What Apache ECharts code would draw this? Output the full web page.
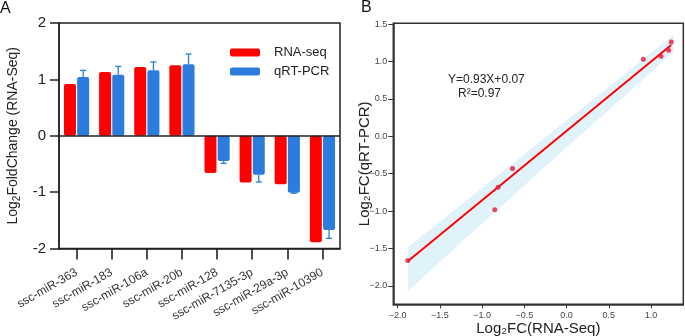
<!DOCTYPE html>
<html><head><meta charset="utf-8">
<script src="https://cdn.jsdelivr.net/npm/echarts@6/dist/echarts.min.js"></script>
<style>html,body{margin:0;padding:0;background:#fff}#c{width:685px;height:336px}</style>
</head><body><div id="c"></div>
<script>
// ---- Panel A data ----
const categories = ['ssc-miR-363','ssc-miR-183','ssc-miR-106a','ssc-miR-20b','ssc-miR-128','ssc-miR-7135-3p','ssc-miR-29a-3p','ssc-miR-10390'];
const rnaSeq = [0.92, 1.13, 1.22, 1.25, -0.66, -0.83, -0.86, -1.89];
const qrtPcr = [1.04, 1.08, 1.16, 1.27, -0.45, -0.69, -1.01, -1.67];
const qrtErr = [0.12, 0.15, 0.15, 0.18, 0.04, 0.13, 0.01, 0.15];
const yTicksA = [-2, -1, 0, 1, 2];
// ---- Panel B data ----
const scatterX = [0.91, 1.12, 1.21, 1.24, -0.64, -0.81, -0.85, -1.88];
const scatterY = [1.03, 1.07, 1.15, 1.26, -0.43, -0.68, -0.98, -1.66];
const fitX = [-1.88, 1.24];
const fitY = [-1.67, 1.22];
const bandX = [-1.88, -1.2, -0.6, 0, 0.6, 1.27];
const bandUpper = [-1.48, -0.87, -0.33, 0.21, 0.75, 1.36];
const bandLower = [-2.07, -1.37, -0.76, -0.15, 0.45, 1.13];
const xTicksB = [-2.0, -1.5, -1.0, -0.5, 0.0, 0.5, 1.0];
const yTicksB = [-2.0, -1.5, -1.0, -0.5, 0.0, 0.5, 1.0, 1.5];

const FONT = '"Liberation Sans", Arial, sans-serif';
const RED = '#FF0000', BLUE = '#2B7CDC';
const fmtB = v => (v < 0 ? '\u2212' : '') + Math.abs(v).toFixed(1);

const chart = echarts.init(document.getElementById('c'), null, {renderer: 'canvas'});
const option = {
  animation: false,
  textStyle: {fontFamily: FONT},
  grid: [
    {left: 59, top: 23, width: 281, height: 225.5, show: true, borderColor: '#222', borderWidth: 1.5, containLabel: false, outerBoundsMode: 'none'},
    {left: 393.3, top: 23.3, width: 290, height: 281, show: true, borderColor: '#333', borderWidth: 1.5, containLabel: false, outerBoundsMode: 'none'}
  ],
  legend: {
    data: ['RNA-seq', 'qRT-PCR'], orient: 'vertical', left: 225, top: 41,
    itemWidth: 30, itemHeight: 8, icon: 'roundRect', itemGap: 6,
    textStyle: {fontSize: 13, color: '#222', fontFamily: FONT, padding: [0, 0, 0, 9]}
  },
  xAxis: [
    {type: 'category', gridIndex: 0, data: categories, position: 'bottom',
      axisLine: {show: true, onZero: false, lineStyle: {color: '#222', width: 1.5}},
      axisTick: {show: true, inside: false, alignWithLabel: true, interval: 0, length: 11, lineStyle: {color: '#222', width: 1.6}},
      axisLabel: {rotate: 30, fontSize: 12, color: '#333', margin: 23, interval: 0}},
    {type: 'value', gridIndex: 1, min: -2.052, max: 1.383, splitLine: {show: false},
      axisLine: {show: true, onZero: false, lineStyle: {color: '#333', width: 1.5}},
      axisTick: {show: true, length: 4, customValues: xTicksB, lineStyle: {color: '#333'}},
      axisLabel: {customValues: xTicksB, formatter: fmtB, fontSize: 9, color: '#444', margin: 7},
      name: 'Log\u2082FC(RNA-Seq)', nameLocation: 'middle', nameGap: 17, nameMoveOverlap: false,
      nameTextStyle: {fontSize: 15, color: '#222'}}
  ],
  yAxis: [
    {type: 'value', gridIndex: 0, min: -2, max: 2, interval: 1, splitLine: {show: false},
      axisLine: {show: true, onZero: false, lineStyle: {color: '#222', width: 1.5}},
      axisTick: {show: true, length: 9, lineStyle: {color: '#222', width: 1.5}},
      axisLabel: {fontSize: 15, color: '#222', margin: 13, customValues: yTicksA},
      name: '{a|Log}{s|2}{a|FoldChange (RNA-Seq)}', nameLocation: 'middle', nameGap: 37, nameRotate: 90, nameMoveOverlap: false,
      nameTextStyle: {rich: {a: {fontSize: 14, color: '#222', fontFamily: FONT}, s: {fontSize: 10, color: '#222', fontFamily: FONT, padding: [7, 0, 0, 0]}}}},
    {type: 'value', gridIndex: 1, min: -2.245, max: 1.51, splitLine: {show: false},
      axisLine: {show: true, onZero: false, lineStyle: {color: '#333', width: 1.5}},
      axisTick: {show: true, length: 5, customValues: yTicksB, lineStyle: {color: '#333'}},
      axisLabel: {customValues: yTicksB, formatter: fmtB, fontSize: 9, color: '#444', margin: 6},
      name: 'Log\u2082FC(qRT-PCR)', nameLocation: 'middle', nameGap: 21, nameRotate: 90, nameMoveOverlap: false,
      nameTextStyle: {fontSize: 15, color: '#222'}}
  ],
  series: [
    {name: 'RNA-seq', type: 'bar', xAxisIndex: 0, yAxisIndex: 0, data: rnaSeq, barWidth: 12, barGap: '10%',
      itemStyle: {color: RED, borderRadius: 2}},
    {name: 'qRT-PCR', type: 'bar', xAxisIndex: 0, yAxisIndex: 0, data: qrtPcr, barWidth: 12, barGap: '10%',
      itemStyle: {color: BLUE, borderRadius: 2}},
    {name: 'err', type: 'custom', xAxisIndex: 0, yAxisIndex: 0, z: 5, silent: true,
      data: categories.map((c, i) => [i, qrtPcr[i], qrtErr[i]]),
      encode: {x: 0, y: 1},
      renderItem: (params, api) => {
        const i = api.value(0), v = api.value(1), e = api.value(2);
        const end = v >= 0 ? v + e : v - e;
        const p0 = api.coord([i, v]), p1 = api.coord([i, end]);
        const x = p0[0] + 6.6;
        return {type: 'group', children: [
          {type: 'line', shape: {x1: x, y1: p0[1], x2: x, y2: p1[1]}, style: {stroke: BLUE, lineWidth: 1.3}},
          {type: 'line', shape: {x1: x - 3, y1: p1[1], x2: x + 3, y2: p1[1]}, style: {stroke: BLUE, lineWidth: 1.3}}
        ]};
      },
      markLine: {silent: true, symbol: 'none', label: {show: false},
        lineStyle: {color: '#222', width: 1.5, type: 'solid'}, data: [{yAxis: 0}]}
    },
    {name: 'band', type: 'custom', xAxisIndex: 1, yAxisIndex: 1, silent: true, z: 1,
      data: [[bandX[0], bandUpper[0]]], encode: {x: 0, y: 1},
      renderItem: (params, api) => {
        const pts = [];
        for (let i = 0; i < bandX.length; i++) pts.push(api.coord([bandX[i], bandUpper[i]]));
        for (let i = bandX.length - 1; i >= 0; i--) pts.push(api.coord([bandX[i], bandLower[i]]));
        return {type: 'polygon', shape: {points: pts}, style: {fill: '#E0F3FB'}};
      }},
    {name: 'fit', type: 'line', xAxisIndex: 1, yAxisIndex: 1, z: 3, symbol: 'none', silent: true,
      data: fitX.map((x, i) => [x, fitY[i]]), lineStyle: {color: RED, width: 2}},
    {name: 'points', type: 'scatter', xAxisIndex: 1, yAxisIndex: 1, z: 4, symbolSize: 5, silent: true,
      data: scatterX.map((x, i) => [x, scatterY[i]]), itemStyle: {color: '#E3193F'}}
  ],
  graphic: [
    {type: 'text', left: 0, top: 1, style: {text: 'A', fontSize: 16, fill: '#111', fontFamily: FONT}},
    {type: 'text', left: 361, top: 0, style: {text: 'B', fontSize: 16, fill: '#111', fontFamily: FONT}},
    {type: 'text', left: 448, top: 74, style: {text: 'Y=0.93X+0.07', fontSize: 12, fill: '#222', fontFamily: FONT}},
    {type: 'text', left: 458, top: 88, style: {text: 'R\u00b2=0.97', fontSize: 12, fill: '#222', fontFamily: FONT}}
  ]
};
chart.setOption(option);
</script>
</body></html>
